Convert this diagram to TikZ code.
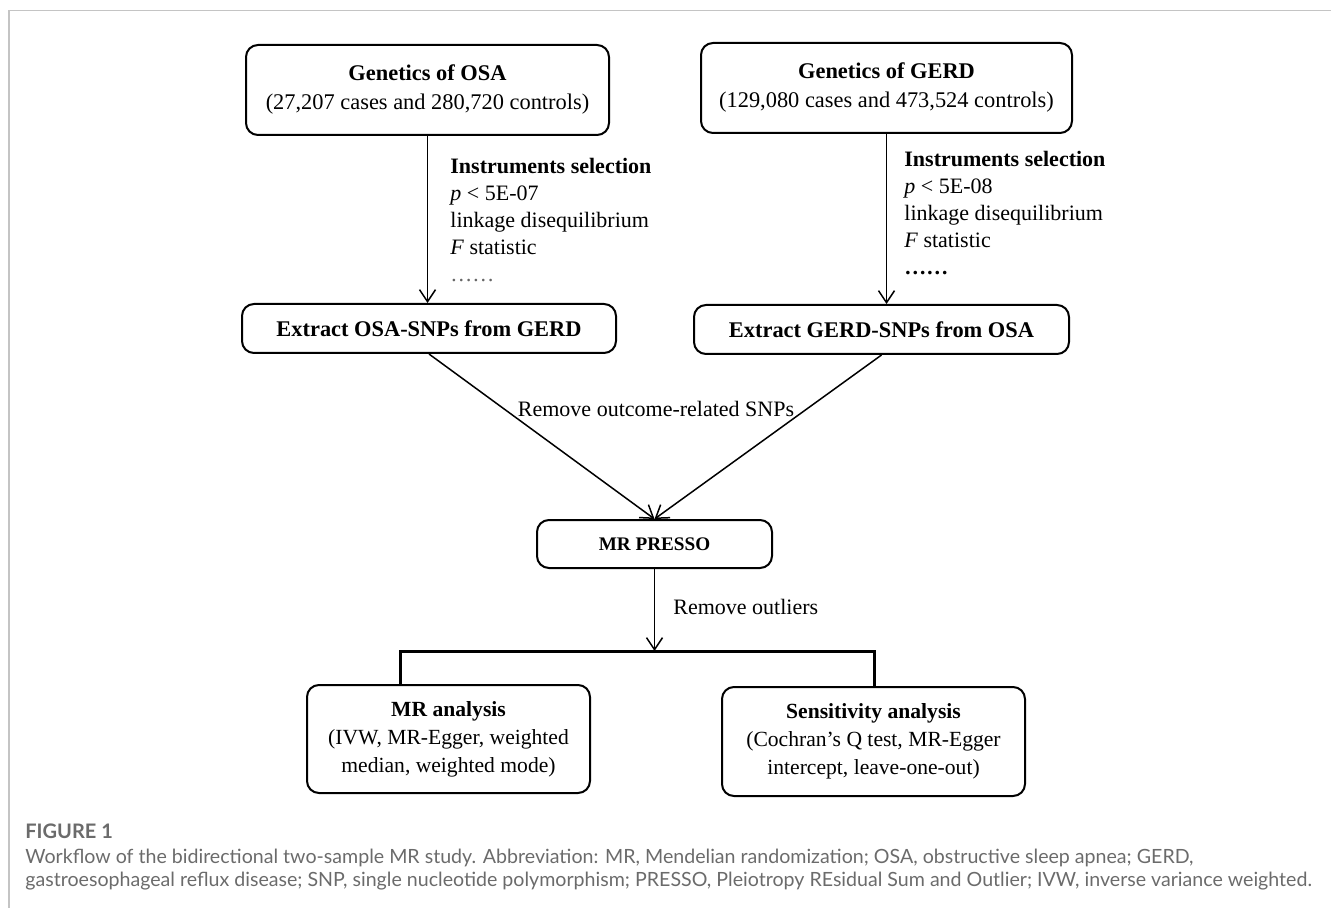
\documentclass[tikz,border=0pt]{standalone}
\usepackage{xcolor}
\usepackage{fontspec}
\setmainfont{Liberation Serif}
\newfontfamily\capfont{Lato}
\usepackage{tikz}
\usetikzlibrary{arrows.meta, calc}
\tikzset{->, >={Straight Barb[length=6pt,width=8pt]}, font=\fontsize{11}{13.5}\selectfont}
\definecolor{framegray}{HTML}{C4C4C4}
\definecolor{capgray}{HTML}{6B6B6B}

\begin{document}
\begin{tikzpicture}[x=0.5pt,y=-0.5pt,
  stage/.style={rectangle,rounded corners=6pt,draw,line width=1pt,inner sep=0pt,align=center},
  lbl/.style={inner sep=0pt,align=left}]
\useasboundingbox (0,0) rectangle (1331,908);
%\draw[help lines] (0,0) grid (1331,908);
\draw[-,framegray,line width=0.75pt] (9,908) -- (9,10.5) -- (1331,10.5);

\path (427.5,90) node(gen_osa) [stage,minimum width=181.5pt,minimum height=45pt,font=\fontsize{11.2}{14.5}\selectfont] {\textbf{Genetics of OSA}\\(27,207 cases and 280,720 controls)}
(886.5,88) node(gen_gerd) [stage,minimum width=185.5pt,minimum height=45pt,font=\fontsize{11.2}{14.5}\selectfont] {\textbf{Genetics of GERD}\\(129,080 cases and 473,524 controls)}
(429,328.5) node(extract_osa) [stage,minimum width=187pt,minimum height=24.5pt,font=\fontsize{11.2}{14.5}\selectfont] {\textbf{Extract OSA-SNPs from GERD}}
(881.5,329.5) node(extract_gerd) [stage,minimum width=187.5pt,minimum height=24.5pt,font=\fontsize{11.2}{14.5}\selectfont] {\textbf{Extract GERD-SNPs from OSA}}
(654.5,544) node(mr_presso) [stage,minimum width=117.5pt,minimum height=24pt,font=\fontsize{9.6}{12}\selectfont] {\textbf{MR PRESSO}}
(448.5,739) node(mr_analysis) [stage,minimum width=141.5pt,minimum height=54pt,font=\fontsize{10.8}{14}\selectfont] {\textbf{MR analysis}\\(IVW, MR-Egger, weighted\\median, weighted mode)}
(873.5,741.5) node(sensitivity) [stage,minimum width=151.5pt,minimum height=54.5pt,font=\fontsize{10.8}{14}\selectfont] {\textbf{Sensitivity analysis}\\(Cochran's Q test, MR-Egger\\intercept, leave-one-out)};

% selection criteria
\path (450,220.5) node(sel_osa) [lbl,anchor=west] {\textbf{Instruments selection}\\\textit{p} < 5E-07\\linkage disequilibrium\\\textit{F} statistic\\{\color{black!60}……}}
(904,213.5) node(sel_gerd) [lbl,anchor=west] {\textbf{Instruments selection}\\\textit{p} < 5E-08\\linkage disequilibrium\\\textit{F} statistic\\\textbf{……}}
(656,409) node(rm_snps) [inner sep=0pt] {Remove outcome-related SNPs}
(673,607) node(rm_out) [inner sep=0pt,anchor=west] {Remove outliers};

\coordinate (split) at (654.5,651);
\coordinate (bar_left) at (400,651);
\coordinate (bar_right) at (874,651);

\draw[line width=0.75pt] (gen_osa) -- (gen_osa |- extract_osa.north);
\draw[line width=0.75pt] (gen_gerd) -- (gen_gerd |- extract_gerd.north);
\draw[line width=0.75pt] (extract_osa.south) -- (mr_presso.north);
\draw[line width=0.75pt] (extract_gerd.south) -- (mr_presso.north);
\draw[line width=0.75pt] (mr_presso) -- (split);
\draw[-,line width=1.5pt] (mr_analysis.north -| bar_left) -- (bar_left) -- (bar_right) -- (sensitivity.north -| bar_right);

% caption
\path (25,831) node(fig_no) [inner sep=0pt,anchor=west,text=capgray,font=\capfont\fontsize{10}{12}\selectfont\bfseries] {FIGURE 1}
(25,869.5) node(fig_cap) [inner sep=0pt,anchor=west,align=left,text=capgray,font=\capfont\fontsize{9.8}{11.5}\selectfont] {Workflow of the bidirectional two-sample MR study. Abbreviation: MR, Mendelian randomization; OSA, obstructive sleep apnea; GERD,\\gastroesophageal reflux disease; SNP, single nucleotide polymorphism; PRESSO, Pleiotropy REsidual Sum and Outlier; IVW, inverse variance weighted.};
\end{tikzpicture}
\end{document}
